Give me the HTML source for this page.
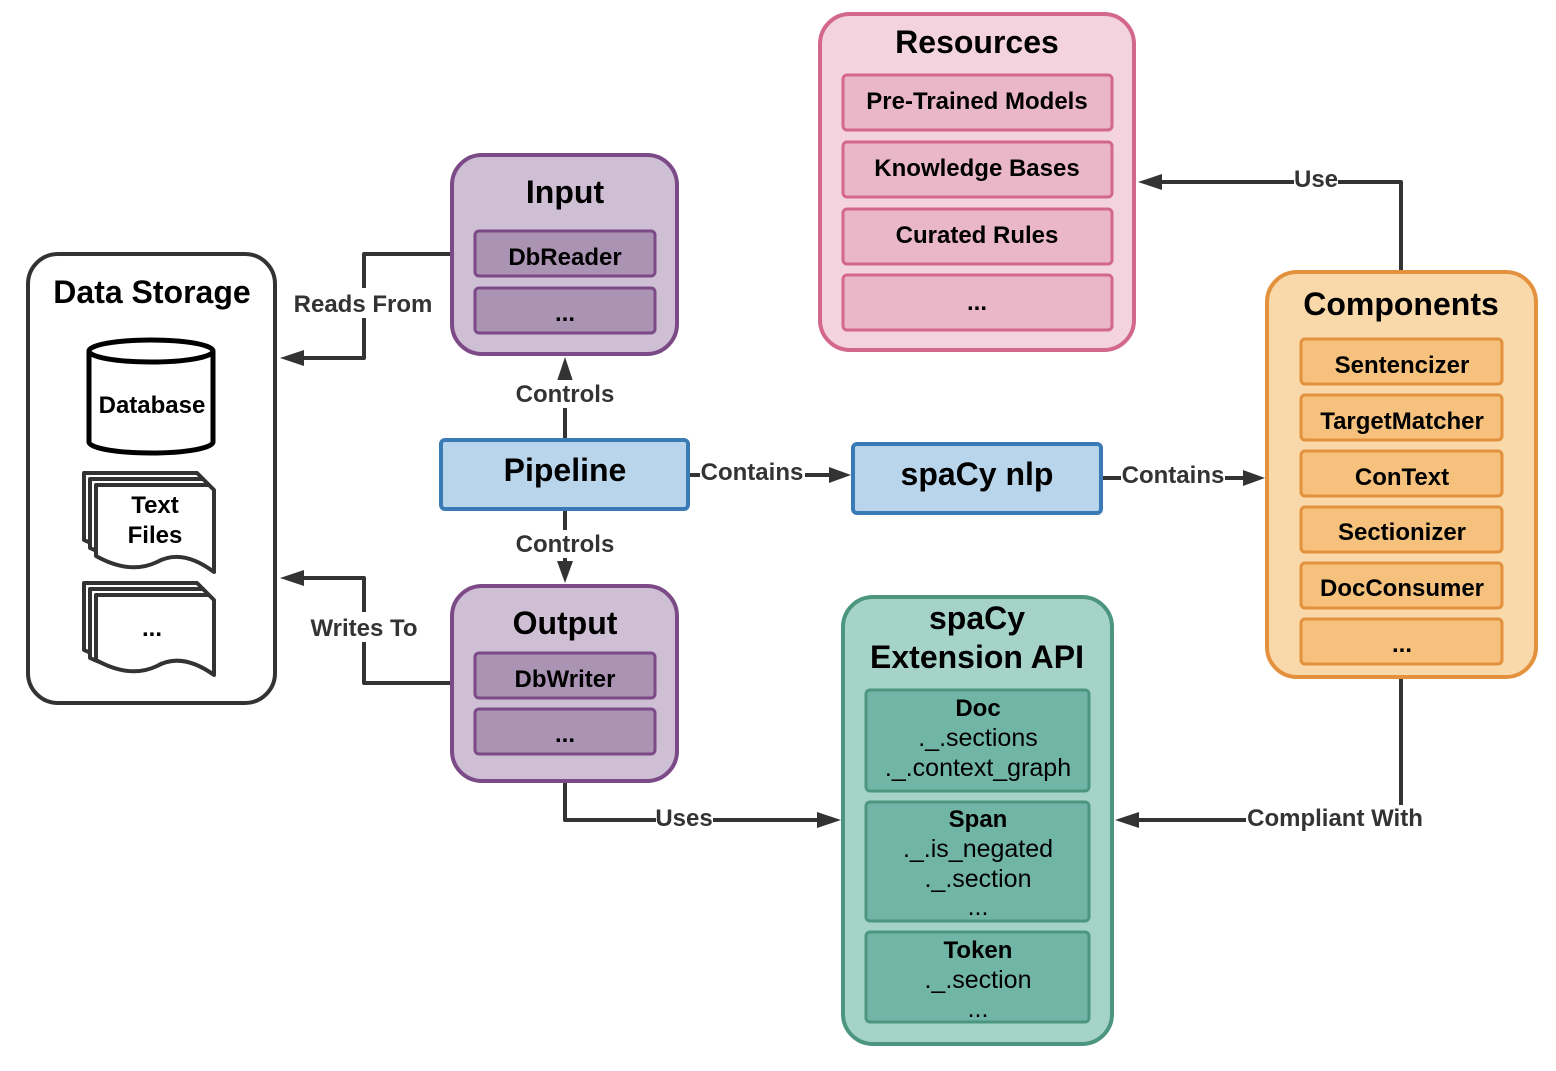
<!DOCTYPE html>
<html><head><meta charset="utf-8"><style>
html,body{margin:0;padding:0;background:#fff;}
text{font-family:"Liberation Sans",sans-serif;}
</style></head><body>
<svg width="1556" height="1066" viewBox="0 0 1556 1066" xmlns="http://www.w3.org/2000/svg">
<g fill="none" stroke="#333" stroke-width="4" stroke-linejoin="round">
<path d="M452 254 H364 V358 H300"/>
<path d="M452 683 H364 V578 H300"/>
<path d="M565 440 V376"/>
<path d="M565 509 V566"/>
<path d="M688 475 H832"/>
<path d="M1101 478 H1246"/>
<path d="M1401 272 V182 H1158"/>
<path d="M1401 677 V820 H1136"/>
<path d="M565 781 V820 H822"/>
</g>
<g fill="#333">
<polygon points="280,358 304,350 304,366"/>
<polygon points="280,578 304,570 304,586"/>
<polygon points="565,357 557,381 573,381"/>
<polygon points="565,583 557,561 573,561"/>
<polygon points="851,475 829,467 829,483"/>
<polygon points="1265,478 1243,470 1243,486"/>
<polygon points="1138,182 1162,174 1162,190"/>
<polygon points="1115,820 1139,812 1139,828"/>
<polygon points="841,820 817,812 817,828"/>
</g>
<g font-weight="bold" font-size="24" fill="#333" text-anchor="middle">
<rect x="291" y="288" width="144" height="30" fill="#fff"/>
<text x="363" y="312">Reads From</text>
<rect x="308" y="612" width="112" height="30" fill="#fff"/>
<text x="364" y="636">Writes To</text>
<rect x="514" y="380" width="102" height="28" fill="#fff"/>
<text x="565" y="402">Controls</text>
<rect x="514" y="530" width="102" height="28" fill="#fff"/>
<text x="565" y="552">Controls</text>
<rect x="700" y="459" width="105" height="28" fill="#fff"/>
<text x="752" y="480">Contains</text>
<rect x="1121" y="462" width="104" height="28" fill="#fff"/>
<text x="1173" y="483">Contains</text>
<rect x="1294" y="166" width="44" height="28" fill="#fff"/>
<text x="1316" y="187">Use</text>
<rect x="1246" y="805" width="178" height="28" fill="#fff"/>
<text x="1335" y="826">Compliant With</text>
<rect x="656" y="805" width="57" height="28" fill="#fff"/>
<text x="684" y="826">Uses</text>
</g>

<rect x="28" y="254" width="247" height="449" rx="30" fill="#fff" stroke="#333" stroke-width="4"/>
<text x="152" y="303" font-size="32" font-weight="bold" text-anchor="middle" fill="#000">Data Storage</text>
<g fill="#fff" stroke="#000" stroke-width="5">
<path d="M89 351 V442 A62 11 0 0 0 213 442 V351"/>
<ellipse cx="151" cy="351" rx="62" ry="11"/>
</g>
<text x="152" y="413" font-size="24" font-weight="bold" text-anchor="middle">Database</text>
<g fill="#fff" stroke="#333" stroke-width="4" stroke-linejoin="round">
<path d="M84 473 H197 L203 479 V545 Q170 530 145 545 Q120 557 84 540 Z"/>
<path d="M90 479 H203 L209 485 V553 Q176 538 151 553 Q126 565 90 548 Z"/>
<path d="M96 485 H209 L214 490 V572 Q182 548 157 562 Q130 575 96 556 Z"/>
<path d="M84 583 H197 L203 589 V655 Q170 640 145 655 Q120 667 84 650 Z"/>
<path d="M90 589 H203 L209 595 V663 Q176 648 151 663 Q126 675 90 658 Z"/>
<path d="M96 595 H209 L214 600 V675 Q182 652 157 666 Q130 679 96 660 Z"/>
</g>
<g font-size="24" font-weight="bold" text-anchor="middle" fill="#000">
<text x="155" y="513">Text</text>
<text x="155" y="543">Files</text>
<text x="152" y="636">...</text>
</g>

<rect x="452" y="155" width="225" height="199" rx="30" fill="#cfbfd4" stroke="#7b4a87" stroke-width="4"/>
<text x="565" y="203" font-size="32" font-weight="bold" text-anchor="middle">Input</text>
<rect x="475" y="231" width="180" height="45" rx="4" fill="#ab93b3" stroke="#7b4a87" stroke-width="3"/>
<rect x="475" y="288" width="180" height="45" rx="4" fill="#ab93b3" stroke="#7b4a87" stroke-width="3"/>
<text x="565" y="265" font-size="24" font-weight="bold" text-anchor="middle">DbReader</text>
<text x="565" y="321" font-size="24" font-weight="bold" text-anchor="middle">...</text>

<rect x="452" y="586" width="225" height="195" rx="30" fill="#cfbfd4" stroke="#7b4a87" stroke-width="4"/>
<text x="565" y="634" font-size="32" font-weight="bold" text-anchor="middle">Output</text>
<rect x="475" y="653" width="180" height="45" rx="4" fill="#ab93b3" stroke="#7b4a87" stroke-width="3"/>
<rect x="475" y="709" width="180" height="45" rx="4" fill="#ab93b3" stroke="#7b4a87" stroke-width="3"/>
<text x="565" y="687" font-size="24" font-weight="bold" text-anchor="middle">DbWriter</text>
<text x="565" y="742" font-size="24" font-weight="bold" text-anchor="middle">...</text>

<rect x="441" y="440" width="247" height="69" rx="4" fill="#b8d5ec" stroke="#3a7bb5" stroke-width="4"/>
<text x="565" y="481" font-size="32" font-weight="bold" text-anchor="middle">Pipeline</text>
<rect x="853" y="444" width="248" height="69" rx="4" fill="#b8d5ec" stroke="#3a7bb5" stroke-width="4"/>
<text x="977" y="485" font-size="32" font-weight="bold" text-anchor="middle">spaCy nlp</text>

<rect x="820" y="14" width="314" height="336" rx="30" fill="#f2d3de" stroke="#d3688a" stroke-width="4"/>
<text x="977" y="53" font-size="32" font-weight="bold" text-anchor="middle">Resources</text>
<g fill="#eab7c8" stroke="#d3688a" stroke-width="3">
<rect x="843" y="75" width="269" height="55" rx="4"/>
<rect x="843" y="142" width="269" height="55" rx="4"/>
<rect x="843" y="209" width="269" height="55" rx="4"/>
<rect x="843" y="275" width="269" height="55" rx="4"/>
</g>
<g font-size="24" font-weight="bold" text-anchor="middle">
<text x="977" y="109">Pre-Trained Models</text>
<text x="977" y="176">Knowledge Bases</text>
<text x="977" y="243">Curated Rules</text>
<text x="977" y="310">...</text>
</g>

<rect x="1267" y="272" width="269" height="405" rx="30" fill="#f9d9a9" stroke="#e4913d" stroke-width="4"/>
<text x="1401" y="315" font-size="32" font-weight="bold" text-anchor="middle">Components</text>
<g fill="#f6c17c" stroke="#e4913d" stroke-width="3">
<rect x="1301" y="339" width="201" height="45" rx="4"/>
<rect x="1301" y="395" width="201" height="45" rx="4"/>
<rect x="1301" y="451" width="201" height="45" rx="4"/>
<rect x="1301" y="507" width="201" height="45" rx="4"/>
<rect x="1301" y="563" width="201" height="45" rx="4"/>
<rect x="1301" y="619" width="201" height="45" rx="4"/>
</g>
<g font-size="24" font-weight="bold" text-anchor="middle">
<text x="1402" y="373">Sentencizer</text>
<text x="1402" y="429">TargetMatcher</text>
<text x="1402" y="485">ConText</text>
<text x="1402" y="540">Sectionizer</text>
<text x="1402" y="596">DocConsumer</text>
<text x="1402" y="652">...</text>
</g>

<rect x="843" y="597" width="269" height="447" rx="30" fill="#a5d3c7" stroke="#4c9680" stroke-width="4"/>
<text x="977" y="629" font-size="32" font-weight="bold" text-anchor="middle">spaCy</text>
<text x="977" y="668" font-size="32" font-weight="bold" text-anchor="middle">Extension API</text>
<g fill="#70b5a5" stroke="#4c9680" stroke-width="3">
<rect x="866" y="690" width="223" height="101" rx="4"/>
<rect x="866" y="802" width="223" height="119" rx="4"/>
<rect x="866" y="932" width="223" height="90" rx="4"/>
</g>
<g font-size="25" text-anchor="middle" fill="#000">
<text x="978" y="716" font-weight="bold" font-size="24">Doc</text>
<text x="978" y="746">._.sections</text>
<text x="978" y="776">._.context_graph</text>
<text x="978" y="827" font-weight="bold" font-size="24">Span</text>
<text x="978" y="857">._.is_negated</text>
<text x="978" y="887">._.section</text>
<text x="978" y="915">...</text>
<text x="978" y="958" font-weight="bold" font-size="24">Token</text>
<text x="978" y="988">._.section</text>
<text x="978" y="1017">...</text>
</g>
</svg>
</body></html>
